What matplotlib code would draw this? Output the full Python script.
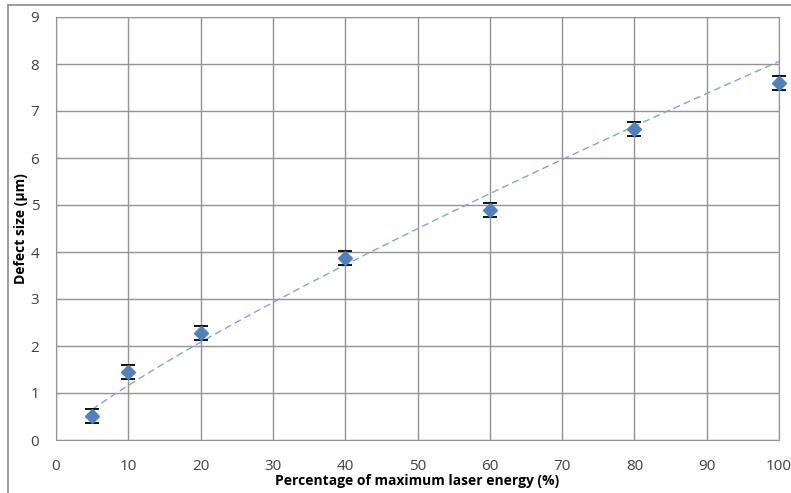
import matplotlib.pyplot as plt
from matplotlib.lines import Line2D
import numpy as np

plt.rcParams["font.family"] = ["Open Sans", "DejaVu Sans"]

# laser energy (% of max) vs defect size (um)
energy = [5, 10, 20, 40, 60, 80, 100]
defect = [0.52, 1.45, 2.28, 3.88, 4.90, 6.62, 7.60]
defect_err = [0.15, 0.15, 0.15, 0.15, 0.15, 0.15, 0.15]

x_ticks = list(range(0, 101, 10))
y_ticks = list(range(0, 10))

fig = plt.figure(figsize=(7.91, 4.93), dpi=100)
ax = fig.add_axes([56 / 791, 53 / 493, 723 / 791, 423 / 493])

# power trendline, fitted in log space
b, log_a = np.polyfit(np.log(energy), np.log(defect), 1)
xf = np.linspace(min(energy), max(energy), 200)
ax.plot(xf, np.exp(log_a) * xf ** b, ls=(0, (5, 3)), color="#7fa6d4", lw=1.0, zorder=2)

ax.errorbar(energy, defect, yerr=defect_err, fmt="D", color="#4f81bd", ms=7.5,
            ecolor="black", elinewidth=1.3, capsize=5, capthick=1.3, zorder=3,
            clip_on=False)

ax.set_xlim(0, 100)
ax.set_ylim(0, 9)
ax.set_xticks(x_ticks)
ax.set_yticks(y_ticks)
ax.grid(True, color="#939393", lw=1.0)
ax.set_axisbelow(True)
for side in ax.spines:
    ax.spines[side].set_color("#939393")
ax.tick_params(length=0, labelsize=11, colors="#404040", pad=14)
ax.tick_params(axis="y", pad=12)
ax.set_xlabel("Percentage of maximum laser energy (%)", fontsize=10, fontweight="bold",
              labelpad=0)
ax.set_ylabel("Defect size (µm)", fontsize=10, fontweight="bold", labelpad=2)

# chart frame
fig.add_artist(Line2D([8 / 791, 8 / 791], [0, 1 - 4.5 / 493], color="#8c8c8c", lw=1.2))
fig.add_artist(Line2D([8 / 791, 1], [1 - 4.5 / 493, 1 - 4.5 / 493], color="#8c8c8c", lw=1.2))

fig.savefig("out.png", dpi=100)
